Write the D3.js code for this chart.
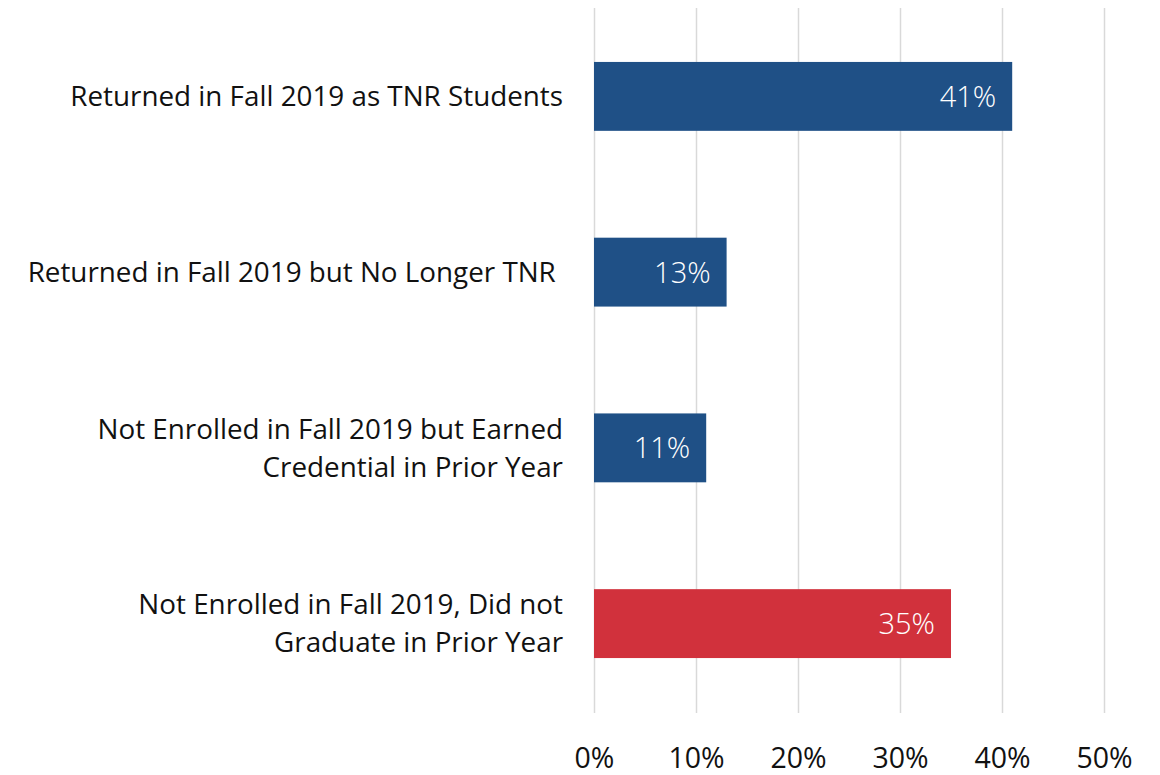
<!DOCTYPE html>
<html>
<head>
<meta charset="utf-8">
<script src="https://cdn.jsdelivr.net/npm/d3@7"></script>
<style>
  body { margin: 0; background: #fff; }
  text { font-family: "Open Sans", "Noto Sans", sans-serif; }
</style>
</head>
<body>
<div id="chart"></div>
<script>
// Data
const categories = [
  ["Returned in Fall 2019 as TNR Students"],
  ["Returned in Fall 2019 but No Longer TNR "],
  ["Not Enrolled in Fall 2019 but Earned", "Credential in Prior Year"],
  ["Not Enrolled in Fall 2019, Did not", "Graduate in Prior Year"]
];
const values = [41, 13, 11, 35];
const barColors = ["#1f5086", "#1f5086", "#1f5086", "#d1313c"];
const tickValues = [0, 10, 20, 30, 40, 50];

const W = 1160, H = 775;
const x0 = 594, x1 = 1104;

const svg = d3.select("#chart")
  .append("svg")
  .attr("width", W)
  .attr("height", H);

const xScale = d3.scaleLinear()
  .domain([0, 50])
  .range([x0, x1]);

const yScale = d3.scaleBand()
  .domain(d3.range(values.length))
  .range([8, 712])
  .paddingInner(0.608)
  .paddingOuter(0.307);

// Gridlines
svg.append("g")
  .selectAll("line")
  .data(tickValues)
  .join("line")
  .attr("x1", d => xScale(d) + 0.5)
  .attr("x2", d => xScale(d) + 0.5)
  .attr("y1", 8)
  .attr("y2", 713)
  .attr("stroke", "#d9d9d9")
  .attr("stroke-width", 1.5);

// Bars
svg.append("g")
  .selectAll("rect")
  .data(values)
  .join("rect")
  .attr("x", xScale(0))
  .attr("y", (d, i) => yScale(i))
  .attr("width", d => xScale(d) - xScale(0))
  .attr("height", yScale.bandwidth())
  .attr("fill", (d, i) => barColors[i]);

// Value labels
svg.append("g")
  .selectAll("text")
  .data(values)
  .join("text")
  .attr("x", d => xScale(d) - 16)
  .attr("y", (d, i) => yScale(i) + yScale.bandwidth() / 2)
  .attr("dy", "0.36em")
  .attr("text-anchor", "end")
  .attr("fill", "#fff")
  .attr("font-size", 29)
  .attr("font-weight", 300)
  .text(d => d + "%");

// Category labels
const catG = svg.append("g");
categories.forEach((lines, i) => {
  const cy = yScale(i) + yScale.bandwidth() / 2;
  const t = catG.append("text")
    .attr("text-anchor", "end")
    .attr("font-size", 27.8)
    .attr("fill", "#111")
    .style("white-space", "pre");
  lines.forEach((line, j) => {
    t.append("tspan")
      .attr("x", 563)
      .attr("y", cy + (j - (lines.length - 1) / 2) * 38)
      .attr("dy", "0.35em")
      .text(line);
  });
});

// X axis tick labels
const xAxis = d3.axisBottom(xScale)
  .tickValues(tickValues)
  .tickFormat(d => d + "%")
  .tickSize(0)
  .tickPadding(0);

svg.append("g")
  .attr("transform", "translate(0,748)")
  .call(xAxis)
  .call(g => g.select(".domain").remove())
  .selectAll("text")
  .attr("font-family", "Open Sans, Noto Sans, sans-serif")
  .attr("font-size", 28.5)
  .attr("dy", null)
  .attr("y", 20)
  .attr("fill", "#111");
</script>
</body>
</html>
